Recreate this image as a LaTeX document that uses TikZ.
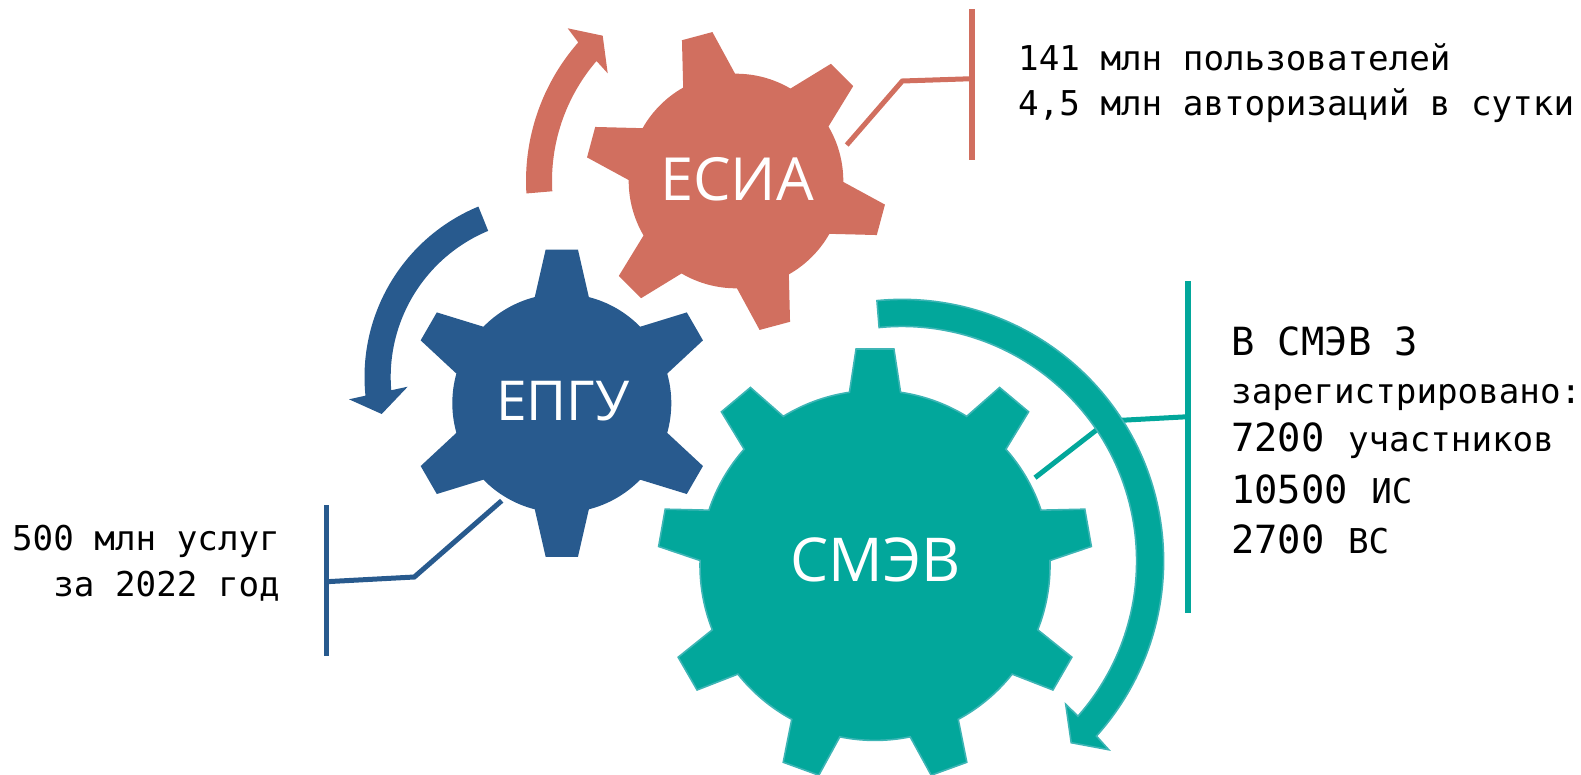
\documentclass[tikz,border=0pt]{standalone}
\usepackage{fontspec}
\newfontfamily\labfont{Open Sans}
\newfontfamily\monofont{DejaVu Sans Mono}
\definecolor{cRed}{HTML}{D16F5F}
\definecolor{cBlue}{HTML}{285A8E}
\definecolor{cTeal}{HTML}{02A79B}
\definecolor{cTealEdge}{HTML}{3DB5B5}
\tikzset{
  redfill/.style={fill=cRed},
  bluefill/.style={fill=cBlue},
  tealfill/.style={fill=cTeal,draw=cTealEdge,line width=1.6pt,line join=miter},
  gearlabel/.style={text=white,anchor=base,inner sep=0pt,font=\labfont\fontsize{59.5}{70}\selectfont},
  infotext/.style={text=black,inner sep=0pt,font=\monofont\fontsize{34.2}{40}\selectfont},
  infobig/.style={text=black,inner sep=0pt,anchor=base west,font=\monofont\fontsize{34.2}{40}\selectfont},
  leaderred/.style={draw=cRed,line width=5pt},
  leaderblue/.style={draw=cBlue,line width=5pt},
  leaderteal/.style={draw=cTeal,line width=5pt},
}
% #1 style, #2 x, #3 y, #4 teeth, #5 rotation, #6 body radius, #7 base half angle, #8 tip radius, #9 tip half angle
\newcommand\gearshape[9]{%
  \pgfmathsetmacro\gs{360/#4}%
  \pgfmathtruncatemacro\nmax{#4-1}%
  \begin{scope}[shift={(#2,#3)}]
  \path[#1] ({#5+#7}:#6pt)
    \foreach \k [evaluate=\k as \sa using #5-\k*\gs-#7,
                 evaluate=\k as \ea using #5-\k*\gs-\gs+#7,
                 evaluate=\k as \ta using #5-\k*\gs+#9,
                 evaluate=\k as \tb using #5-\k*\gs-#9] in {0,...,\nmax}{
      -- (\ta:#8pt) -- (\tb:#8pt) -- (\sa:#6pt)
      arc[start angle=\sa,end angle=\ea,radius=#6pt]
    } -- cycle;
  \end{scope}%
}
\newcommand\bigsize{\fontsize{38.8}{44}\selectfont}
\begin{document}
\begin{tikzpicture}[x=1pt,y=1pt]
\useasboundingbox (0,0) rectangle (1581,-774);
% leader coordinates
\coordinate (rS) at (846.7,-145);
\coordinate (rK) at (902.3,-81);
\coordinate (rJ) at (972,-78.7);
\coordinate (rT) at (972,-9);
\coordinate (rB) at (972,-160.3);
\coordinate (bS) at (501.7,-500.7);
\coordinate (bK) at (414.3,-577);
\coordinate (bJ) at (326.5,-581.7);
\coordinate (bT) at (326.5,-505);
\coordinate (bB) at (326.5,-656);
\coordinate (tS) at (1035,-477.7);
\coordinate (tK) at (1108,-421);
\coordinate (tJ) at (1188,-416.7);
\coordinate (tT) at (1188,-281);
\coordinate (tB) at (1188,-613);
% arrow heads
\coordinate (ra1) at (567.7,-28.3);
\coordinate (ra2) at (602.7,-35.7);
\coordinate (ra3) at (607.7,-73.3);
\coordinate (ba1) at (349,-399.3);
\coordinate (ba2) at (381.7,-414);
\coordinate (ba3) at (407.7,-386.7);
\coordinate (ta1) at (1108.7,-749.7);
\coordinate (ta2) at (1071.2,-742.7);
\coordinate (ta3) at (1065.7,-704.3);
% leaders
\draw[leaderred] (rS) -- (rK) -- (rJ);
\draw[leaderred,line width=5.4pt] (rT) -- (rB);
\draw[leaderblue] (bS) -- (bK) -- (bJ);
\draw[leaderblue,line width=5.4pt] (bT) -- (bB);
\draw[leaderteal] (tS) -- (tK) -- (tJ);
\draw[leaderteal,line width=5.4pt] (tT) -- (tB);
% gears
\gearshape{redfill}{736}{-181}{6}{105}{107.3}{14.5}{150.8}{6}
\gearshape{bluefill}{561.8}{-403.2}{6}{90}{109.5}{14.3}{154.5}{6}
\gearshape{tealfill}{875}{-565.4}{9}{90}{175}{8.4}{217.2}{5}
% arrows
\begin{scope}[shift={(736,-181)}]
\fill[redfill] (183.4:210pt) arc[start angle=183.4,end angle=138.7,radius=210pt]
  -- (ra1) -- (ra2) -- (ra3) -- (139.3:184pt)
  arc[start angle=139.3,end angle=183.2,radius=184pt] -- cycle;
\end{scope}
\begin{scope}[shift={(549,-377)}]
\fill[bluefill] (112.5:184.5pt) arc[start angle=112.5,end angle=185.8,radius=184.5pt]
  -- (ba1) -- (ba2) -- (ba3) -- (184.8:158.3pt)
  arc[start angle=184.8,end angle=112.6,radius=158.3pt] -- cycle;
\end{scope}
\begin{scope}[shift={(902,-561)}]
\path[tealfill] (95.5:261.6pt) arc[start angle=95.5,end angle=-42,radius=261.6pt]
  -- (ta1) -- (ta2) -- (ta3) -- (-41.4:234.6pt)
  arc[start angle=-41.4,end angle=95.6,radius=234.6pt] -- cycle;
\end{scope}
% gear labels
\node[gearlabel] (esia) at (737,-200.7) {ЕСИА};
\node[gearlabel,font=\labfont\fontsize{55}{64}\selectfont] (epgu) at (563,-420.7) {ЕПГУ};
\node[gearlabel,font=\labfont\fontsize{60.5}{70}\selectfont] (smev) at (875.5,-581.7) {СМЭВ};
% info texts
\node[infotext,anchor=base west] (t1) at (1018,-70.5) {141 млн пользователей};
\node[infotext,anchor=base west] (t2) at (1018,-115.5) {4,5 млн авторизаций в сутки};
\node[infotext,anchor=base east] (l1) at (280,-550) {500 млн услуг};
\node[infotext,anchor=base east] (l2) at (280,-596) {за 2022 год};
\node[infobig] (s1) at (1231,-355) {{\bigsize В СМЭВ 3}};
\node[infobig] (s2) at (1231,-403.5) {зарегистрировано:};
\node[infobig] (s3) at (1231,-451.7) {{\bigsize 7200 }участников};
\node[infobig] (s4) at (1231,-503.3) {{\bigsize 10500 }ИС};
\node[infobig] (s5) at (1231,-553.3) {{\bigsize 2700 }ВС};
\end{tikzpicture}
\end{document}
